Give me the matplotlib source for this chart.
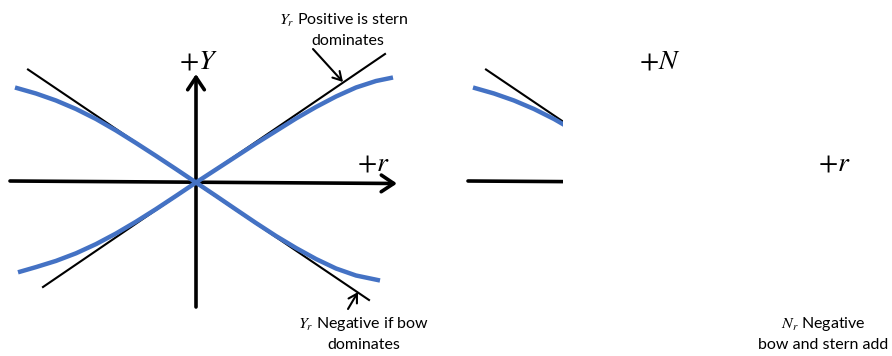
import matplotlib
matplotlib.use("Agg")
import matplotlib.pyplot as plt
from matplotlib.patches import Rectangle

plt.rcParams["font.family"] = ["Lato", "DejaVu Sans"]
plt.rcParams["mathtext.fontset"] = "stix"

# Force-vs-yaw-rate sketch (origin at 0, 0)
rise_x = [-178, -160, -140, -120, -100, -80, -60, -40, -20, 0,
          20, 40, 60, 80, 100, 120, 140, 160, 180, 197]
rise_y = [-89.8, -84.6, -78.4, -70.8, -61.6, -51, -39.2, -26.6, -13.4, 0,
          13, 26, 39, 51.5, 64, 75.5, 86, 95, 101.5, 105]

fall_x = [-181, -160, -140, -120, -100, -80, -60, -40, -20, 0,
          20, 40, 60, 80, 100, 120, 140, 160, 184]
fall_y = [95, 89, 82, 73.5, 63.5, 52, 39.5, 26.6, 13.4, 0,
          -13.4, -27, -40.5, -53.5, -65.5, -76.5, -86, -93, -98]

# Linear (small-r) slopes
lin_rise_x = [-153, 189]
lin_rise_y = [-104.5, 128.5]
lin_fall_x = [-168, 173]
lin_fall_y = [113, -117.5]

# Axis extents
r_axis_x = [-186, 201]
r_axis_y = [1.5, -1]
f_axis_x = [0, 0]
f_axis_y = [-124.5, 108.5]

BLUE = "#4472C4"
W, H = 892, 356
TXT = 11.5

fig = plt.figure(figsize=(W / 100, H / 100), dpi=100)


def panel(left_px):
    ax = fig.add_axes([left_px / W, 0, 446 / W, 1])
    ax.set_xlim(-196, 250)
    ax.set_ylim(-173.5, 182.5)
    ax.axis("off")
    return ax


def axis_arrow(ax, xs, ys, clip=None):
    ann = ax.annotate("", xy=(xs[1], ys[1]), xytext=(xs[0], ys[0]),
                      xycoords="data", textcoords="data",
                      arrowprops=dict(arrowstyle="->,head_length=0.45,head_width=0.3",
                                      lw=2.6, color="black", shrinkA=0, shrinkB=0,
                                      mutation_scale=20),
                      zorder=2, annotation_clip=False)
    if clip is not None:
        ann.arrow_patch.set_clip_path(clip)
    return ann


def curve(ax, xs, ys):
    ln, = ax.plot(xs, ys, color=BLUE, lw=3.2, zorder=4,
                  solid_capstyle="butt", solid_joinstyle="round")
    return ln


# ---- Left panel: sway force Y vs r ----
axL = panel(0)
axis_arrow(axL, r_axis_x, r_axis_y)
axis_arrow(axL, f_axis_x, f_axis_y)
axL.plot(lin_fall_x, lin_fall_y, color="black", lw=1.5, zorder=3)
axL.plot(lin_rise_x, lin_rise_y, color="black", lw=1.5, zorder=3)
curve(axL, fall_x, fall_y)
curve(axL, rise_x, rise_y)

axL.text(2, 122.5, r"$+Y$", fontsize=20, ha="center", va="center")
axL.text(177, 20.5, r"$+r$", fontsize=20, ha="center", va="center")

axL.text(148, 162.5, r"$Y_r$ Positive is stern", fontsize=TXT, ha="center", va="center")
axL.text(152, 141.5, "dominates", fontsize=TXT, ha="center", va="center")
axL.text(168, -141.5, r"$Y_r$ Negative if bow", fontsize=TXT, ha="center", va="center")
axL.text(168, -162.5, "dominates", fontsize=TXT, ha="center", va="center")

small_arrow = dict(arrowstyle="->,head_length=0.6,head_width=0.35", lw=1.5,
                   color="black", shrinkA=0, shrinkB=0, mutation_scale=10)
axL.annotate("", xy=(147, 100.5), xytext=(117, 133.5), arrowprops=small_arrow)
axL.annotate("", xy=(162, -109.5), xytext=(152, -126.5), arrowprops=small_arrow)

# ---- Right panel: yaw moment N vs r (only partly revealed) ----
axR = panel(458)
reveal = Rectangle((-196, -200), 105, 400, transform=axR.transData)
axis_arrow(axR, r_axis_x, r_axis_y, clip=reveal)
axis_arrow(axR, f_axis_x, f_axis_y, clip=reveal)
ln, = axR.plot(lin_fall_x, lin_fall_y, color="black", lw=1.5, zorder=3)
ln.set_clip_path(reveal)
curve(axR, fall_x, fall_y).set_clip_path(reveal)

axR.text(6, 122.5, r"$+N$", fontsize=20, ha="center", va="center")
axR.text(180, 19.5, r"$+r$", fontsize=20, ha="center", va="center")
axR.text(169, -141.5, r"$N_r$ Negative", fontsize=TXT, ha="center", va="center")
axR.text(169, -162.5, "bow and stern add", fontsize=TXT, ha="center", va="center")

fig.savefig("out.png", dpi=100)
